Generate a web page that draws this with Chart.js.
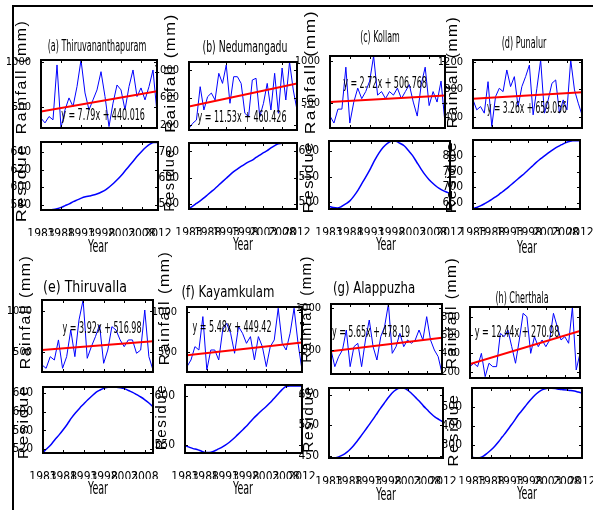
<!DOCTYPE html>
<html>
<head>
<meta charset="utf-8">
<script src="https://cdn.jsdelivr.net/npm/chart.js@4.4.1/dist/chart.umd.min.js"></script>
<style>
  html, body { margin: 0; padding: 0; background: #fff; }
  #fig { position: relative; width: 593px; height: 510px; overflow: hidden; background: #fff; }
  .frame { position: absolute; left: 12px; top: 5px; width: 700px; height: 700px; border-left: 2px solid #000; border-top: 2px solid #000; }
  .plot { position: absolute; }
  .plot canvas { display: block; }
  .txt { position: absolute; white-space: nowrap; color: #000; line-height: 1; font-family: 'Liberation Sans Narrow', 'Arial Narrow', 'DejaVu Sans Condensed', sans-serif; }
</style>
</head>
<body>
<div id="fig"><div class="frame"></div></div>
<script>
// years of record
const years = [1983, 1984, 1985, 1986, 1987, 1988, 1989, 1990, 1991, 1992, 1993, 1994, 1995, 1996, 1997,
  1998, 1999, 2000, 2001, 2002, 2003, 2004, 2005, 2006, 2007, 2008, 2009, 2010, 2011, 2012];
const yearTicks = [1983, 1988, 1993, 1998, 2003, 2008, 2012];
const yearTicksE = [1983, 1988, 1993, 1998, 2003, 2008];

// rainfall (mm)
const rainA = [374, 322, 393, 356, 967, 267, 467, 600, 504, 726, 1022, 655, 467, 578, 689, 892, 615, 281, 541, 744, 689, 467, 726, 911, 615, 711, 578, 726, 911, 433];
const rainB = [154, 227, 275, 758, 420, 613, 666, 565, 952, 806, 1072, 517, 903, 903, 806, 372, 323, 855, 880, 323, 517, 806, 420, 952, 372, 1029, 565, 1116, 710, 420];
const rainC = [342, 259, 425, 425, 925, 259, 509, 675, 550, 634, 759, 1058, 592, 634, 550, 634, 592, 675, 550, 634, 717, 509, 342, 717, 925, 467, 634, 509, 759, 259];
const rainD = [645, 500, 548, 452, 910, 258, 693, 814, 765, 1080, 838, 983, 548, 838, 983, 1152, 427, 814, 1225, 452, 645, 886, 935, 452, 645, 500, 1225, 790, 597, 427];
const rainE = [338, 297, 439, 398, 643, 297, 439, 765, 439, 887, 1130, 419, 561, 683, 826, 358, 520, 805, 765, 643, 561, 643, 643, 480, 520, 1008, 439, 276];
const rainF = [313, 396, 563, 521, 938, 271, 521, 521, 396, 771, 854, 730, 480, 813, 730, 604, 688, 396, 688, 563, 313, 563, 646, 1042, 604, 521, 730, 1042, 604, 271];
const rainG = [500, 300, 420, 500, 740, 300, 540, 580, 300, 620, 860, 540, 380, 660, 780, 1052, 460, 540, 700, 540, 620, 580, 620, 740, 620, 900, 620, 500, 420, 220];
const rainH = [255, 292, 255, 400, 146, 292, 255, 255, 619, 582, 655, 473, 292, 546, 837, 800, 400, 582, 473, 546, 473, 546, 837, 691, 546, 582, 510, 906, 219, 400];

// trend line end values (first year, last year)
const trendA = [447.8, 673.7];
const trendB = [472.0, 806.3];
const trendC = [509.5, 588.4];
const trendD = [662.3, 756.9];
const trendE = [520.9, 626.7];
const trendF = [454.9, 613.8];
const trendG = [483.8, 647.7];
const trendH = [283.4, 644.2];

// residue curves
const resA = [574.4, 574.4, 574.4, 574.6, 575.5, 577, 579, 581, 583.5, 585.5, 587.5, 589, 590, 591, 592.5, 594.5, 597, 600.5, 604.5, 609, 614, 619.5, 625, 630.5, 636, 641, 645.5, 649, 651, 651];
const resB = [483, 492, 502, 512, 523, 535, 547, 559, 572, 585, 598, 611, 623, 633, 643, 652, 660, 667, 677, 686, 695, 703, 713, 722, 729, 731, 731, 731, 731, 731];
const resC = [491, 489, 488, 491, 496, 502, 512, 524, 538, 552, 567, 583, 597, 608, 616, 620, 620, 616, 611, 602, 592, 579, 566, 554, 544, 536, 529, 524, 520, 517];
const resD = [632, 636, 641, 647, 654, 661, 669, 677, 686, 695, 705, 715, 725, 735, 745, 756, 767, 778, 788, 797, 806, 815, 823, 830, 836, 842, 846, 849, 849, 849];
const resE = [513, 521, 530, 541, 551, 562, 574, 587, 598, 608, 617, 626, 634, 642, 647, 651, 653, 653, 653, 652, 650, 646, 642, 637, 632, 626, 619, 611];
const resF = [549, 547.5, 546, 545, 543.5, 542, 542, 543, 545, 547, 549.5, 552.5, 556, 560, 564, 568, 572.5, 577, 581, 585, 588.5, 592.5, 597, 601.5, 606, 609.5, 610, 610, 610, 610];
const resG = [444, 442, 444, 449, 456, 466, 479, 495, 512, 530, 548, 566, 585, 604, 622, 640, 656, 667, 672, 672, 666, 655, 642, 629, 614, 601, 588, 577, 569, 561];
const resH = [234, 231, 232, 240, 255, 272, 292, 315, 341, 366, 394, 421, 450, 475, 500, 525, 547, 567, 582, 591, 596, 596, 594, 590, 588, 586, 584, 581, 576, 571];

// y tick labels
const rainTicksA = [500, 1000], rainTicksB = [200, 600, 1000], rainTicksC = [500, 1000], rainTicksD = [400, 800, 1200];
const rainTicksE = [500, 1000], rainTicksF = [500, 1000], rainTicksG = [500, 1000], rainTicksH = [200, 400, 600, 800];
const resTicksA = [580, 600, 620, 640], resTicksB = [500, 600, 700], resTicksC = [500, 550, 600], resTicksD = [650, 700, 750, 800];
const resTicksE = [520, 560, 600, 640], resTicksF = [550, 600], resTicksG = [450, 550, 650], resTicksH = [300, 400, 500];

const stations = ['(a) Thiruvananthapuram', '(b) Nedumangadu', '(c) Kollam', '(d) Punalur',
  '(e) Thiruvalla', '(f) Kayamkulam', '(g) Alappuzha', '(h) Cherthala'];
const equations = ['y = 7.79x + 440.016', 'y = 11.53x + 460.426', 'y = 2.72x + 506.768', 'y = 3.26x + 659.056',
  'y = 3.92x + 516.98', 'y = 5.48x + 449.42', 'y = 5.65x + 478.19', 'y = 12.44x + 270.98'];

const fig = document.getElementById('fig');
const narrow = "'Liberation Sans Narrow', 'Arial Narrow', 'DejaVu Sans Condensed', sans-serif";

const boxTicks = {
  id: 'boxTicks',
  afterDatasetsDraw(chart) {
    const { ctx, chartArea: a, scales: { x, y } } = chart;
    ctx.save();
    ctx.strokeStyle = '#000';
    ctx.lineWidth = 1;
    ctx.beginPath();
    x.ticks.forEach(t => {
      const px = Math.round(x.getPixelForValue(t.value)) + 0.5;
      ctx.moveTo(px, a.bottom); ctx.lineTo(px, a.bottom - 3);
      ctx.moveTo(px, a.top); ctx.lineTo(px, a.top + 3);
    });
    y.ticks.forEach(t => {
      const py = Math.round(y.getPixelForValue(t.value)) + 0.5;
      ctx.moveTo(a.left, py); ctx.lineTo(a.left + 3, py);
      ctx.moveTo(a.right, py); ctx.lineTo(a.right - 3, py);
    });
    ctx.stroke();
    ctx.lineWidth = 2;
    ctx.strokeRect(a.left, a.top, a.right - a.left, a.bottom - a.top);
    ctx.restore();
  }
};

const fixSize = (prop, size) => scale => {
  scale[prop] = size;
  scale.paddingLeft = scale.paddingRight = scale.paddingTop = scale.paddingBottom = 0;
};

function makePlot({ box, xs, xTicks, showX, yTicks, yMin, yMax, ySize, datasets }) {
  const L = 34, R = 16, T = 10, B = showX ? 26 : 10;
  const w = box[2] - box[0], h = box[3] - box[1];
  const wrap = document.createElement('div');
  wrap.className = 'plot';
  wrap.style.left = (box[0] - L) + 'px';
  wrap.style.top = (box[1] - T) + 'px';
  const cv = document.createElement('canvas');
  cv.width = w + L + R;
  cv.height = h + T + B;
  wrap.appendChild(cv);
  fig.appendChild(wrap);

  new Chart(cv, {
    type: 'line',
    data: { datasets },
    options: {
      responsive: false,
      animation: false,
      events: [],
      layout: { padding: { left: 0, top: T, right: R, bottom: 0 } },
      plugins: { legend: { display: false }, tooltip: { enabled: false } },
      elements: { point: { radius: 0 } },
      scales: {
        x: {
          type: 'linear',
          min: xs[0],
          max: xs[xs.length - 1],
          grid: { display: false },
          border: { display: false },
          afterBuildTicks: s => { s.ticks = xTicks.map(v => ({ value: v })); },
          afterFit: fixSize('height', B),
          ticks: {
            display: showX, autoSkip: false, maxRotation: 0, padding: 9, color: '#000',
            font: { family: narrow, size: 12 }, callback: v => String(v)
          }
        },
        y: {
          type: 'linear',
          min: yMin,
          max: yMax,
          grid: { display: false },
          border: { display: false },
          afterBuildTicks: s => { s.ticks = yTicks.map(v => ({ value: v })); },
          afterFit: fixSize('width', L),
          ticks: { padding: 2, color: '#000', font: { family: narrow, size: ySize }, callback: v => String(v) }
        }
      }
    },
    plugins: [boxTicks]
  });
}

const pts = (xs, ys) => ys.map((v, i) => ({ x: xs[i], y: v }));

function rainPlot(box, xs, rain, trend, yTicks, yMin, yMax) {
  makePlot({
    box, xs, xTicks: xs.length === 30 ? yearTicks : yearTicksE, showX: false, yTicks, yMin, yMax, ySize: 11,
    datasets: [
      { data: [{ x: xs[0], y: trend[0] }, { x: xs[xs.length - 1], y: trend[1] }], borderColor: '#ff0000', borderWidth: 2 },
      { data: pts(xs, rain), borderColor: '#0000ff', borderWidth: 1 }
    ]
  });
}

function resPlot(box, xs, res, yTicks, yMin, yMax) {
  makePlot({
    box, xs, xTicks: xs.length === 30 ? yearTicks : yearTicksE, showX: true, yTicks, yMin, yMax, ySize: 12,
    datasets: [{ data: pts(xs, res), borderColor: '#0000ff', borderWidth: 1.5, cubicInterpolationMode: 'monotone' }]
  });
}

const yearsE = years.slice(0, 28);

rainPlot([41, 60, 157, 128], years, rainA, trendA, rainTicksA, 265, 1022);
rainPlot([189, 62, 297, 130], years, rainB, trendB, rainTicksB, 130, 1116);
rainPlot([330, 56, 445, 128], years, rainC, trendC, rainTicksC, 200, 1058);
rainPlot([473, 60, 582, 128], years, rainD, trendD, rainTicksD, 236, 1225);
rainPlot([42, 300, 153, 372], yearsE, rainE, trendE, rainTicksE, 252, 1130);
rainPlot([187, 307, 302, 372], years, rainF, trendF, rainTicksF, 246, 1058);
rainPlot([331, 304, 442, 374], years, rainG, trendG, rainTicksG, 212, 1052);
rainPlot([470, 307, 580, 378], years, rainH, trendH, rainTicksH, 131, 906);

resPlot([41, 142, 158, 210], years, resA, resTicksA, 574, 651.5);
resPlot([189, 143, 297, 209], years, resB, resTicksB, 481, 732);
resPlot([329, 141, 450, 209], years, resC, resTicksC, 486, 620.5);
resPlot([473, 140, 580, 209], years, resD, resTicksD, 631, 851);
resPlot([43, 387, 153, 453], yearsE, resE, resTicksE, 511.5, 653.5);
resPlot([185, 385, 302, 453], years, resF, resTicksF, 541.5, 611);
resPlot([329, 388, 443, 458], years, resG, resTicksG, 442, 673);
resPlot([472, 388, 582, 458], years, resH, resTicksH, 230, 597);

// text labels
function label(text, cx, cy, size, len, opts = {}) {
  const d = document.createElement('div');
  d.className = 'txt';
  d.textContent = text;
  d.style.fontSize = size + 'px';
  if (opts.family) d.style.fontFamily = opts.family;
  if (opts.spacing) d.style.letterSpacing = opts.spacing;
  fig.appendChild(d);
  const sx = len / d.offsetWidth;
  d.style.left = cx + 'px';
  d.style.top = cy + 'px';
  d.style.transform = `translate(-50%, -50%) rotate(${opts.rot || 0}deg) scaleX(${sx})`;
}

const wide = { family: "'Liberation Sans', Arial, sans-serif", spacing: '1.5px', rot: -90 };

const titlePos = [[97, 46, 99], [245, 47, 85], [380, 37, 40], [524, 43, 45], [85, 287, 84], [228, 292, 93], [374, 288, 82], [522, 298, 53]];
const eqPos = [[103, 115, 84], [242, 117, 89], [385, 83, 84], [527, 108, 80], [102, 328, 79], [232, 327, 79], [371, 332, 78], [517, 332, 85]];
const rainLab = [[20, 77, 115], [169, 73, 120], [309, 72, 125], [451, 72, 113], [24, 312, 115], [163, 308, 115], [305, 309, 108], [450, 313, 113]];
const resLab = [[20, 183, 79], [168, 180, 64], [307, 177, 73], [450, 177, 73], [22, 422, 75], [160, 417, 67], [307, 419, 68], [452, 430, 74]];
const yearLab = [[98, 246], [243, 244], [386, 244], [527, 247], [98, 488], [243, 488], [386, 494], [527, 493]];

stations.forEach((s, i) => label(s, titlePos[i][0], titlePos[i][1], 15, titlePos[i][2]));
equations.forEach((s, i) => label(s, eqPos[i][0], eqPos[i][1], 15, eqPos[i][2]));
rainLab.forEach(p => label('Rainfall (mm)', p[0], p[1], 15, p[2], wide));
resLab.forEach(p => label('Residue', p[0], p[1], 15, p[2], wide));
yearLab.forEach(p => label('Year', p[0], p[1], 17, 20));
</script>
</body>
</html>
